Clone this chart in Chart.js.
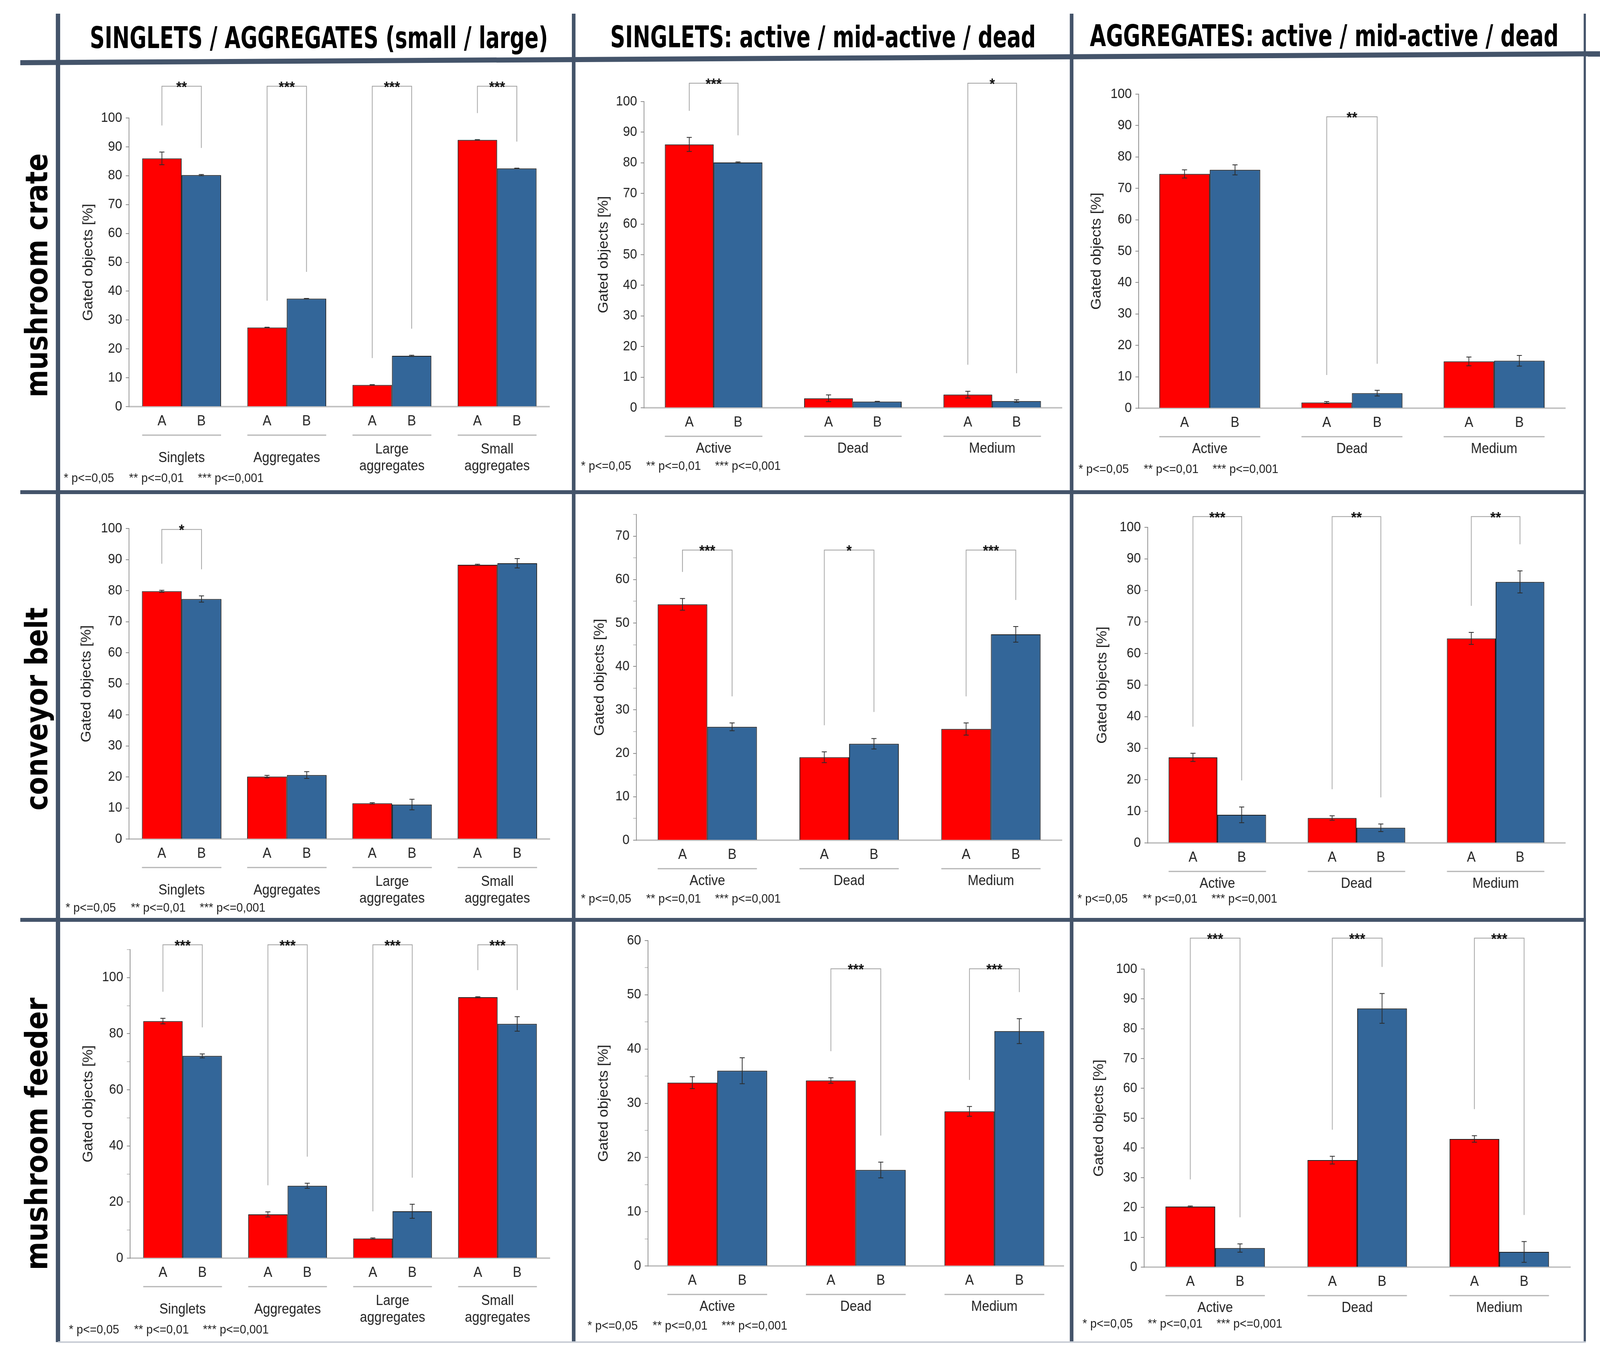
<!DOCTYPE html>
<html>
<head>
<meta charset="utf-8">
<title>Gated objects - singlets / aggregates</title>
<script src="https://cdn.jsdelivr.net/npm/chart.js@4.4.1/dist/chart.umd.min.js"></script>
<style>
  html, body { margin: 0; padding: 0; background: #fff; overflow: hidden; }
  #page { position: relative; width: 4415px; height: 3469px; overflow: hidden; background: #fff;
          transform-origin: 0 0;
          font-family: 'Liberation Sans', Arial, sans-serif; color: #1a1a1a; }
  .rule { position: absolute; background: #44546a; }
  .bigText { position: absolute; font-family: 'Liberation Sans Narrow', 'DejaVu Sans Condensed', 'Liberation Sans', sans-serif;
             font-weight: bold; color: #000; white-space: nowrap; line-height: 1.2; }
  .note { position: absolute; height: 36px; line-height: 36px; font-size: 32px; color: #222; white-space: nowrap; }
  .note span { position: absolute; top: 0; }
  .chartBox { position: absolute; }
</style>
</head>
<body>
<div id="page"></div>
<script>
// ---- data ---------------------------------------------------------------
const sizeGroups = [['Singlets'], ['Aggregates'], ['Large', 'aggregates'], ['Small', 'aggregates']];
const stateGroups = ['Active', 'Dead', 'Medium'];
const seriesNames = ['A', 'B'];
const columnTitles = ['SINGLETS / AGGREGATES (small / large)', 'SINGLETS: active / mid-active / dead', 'AGGREGATES: active / mid-active / dead'];
const rowTitles = ['mushroom crate', 'conveyor belt', 'mushroom feeder'];
const noteParts = ['* p<=0,05', '** p<=0,01', '*** p<=0,001'];

// mushroom crate
const crateSizeA = [86.0, 27.4, 7.5, 92.4];
const crateSizeB = [80.2, 37.4, 17.6, 82.5];
const crateSizeErrA = [2.2, 0.1, 0.1, 0.1];
const crateSizeErrB = [0.2, 0.1, 0.2, 0.1];
const crateSizeStars = ['**', '***', '***', '***'];

const crateSingA = [86.0, 3.1, 4.3];
const crateSingB = [80.1, 2.0, 2.2];
const crateSingErrA = [2.3, 1.1, 1.1];
const crateSingErrB = [0.2, 0.1, 0.4];
const crateSingStars = ['***', '', '*'];

const crateAggA = [74.6, 1.8, 14.9];
const crateAggB = [75.9, 4.8, 15.1];
const crateAggErrA = [1.3, 0.3, 1.4];
const crateAggErrB = [1.6, 0.9, 1.7];
const crateAggStars = ['', '**', ''];

// conveyor belt
const beltSizeA = [79.8, 20.1, 11.5, 88.3];
const beltSizeB = [77.3, 20.6, 11.1, 88.8];
const beltSizeErrA = [0.3, 0.4, 0.2, 0.2];
const beltSizeErrB = [1.0, 1.1, 1.7, 1.5];
const beltSizeStars = ['*', '', '', ''];

const beltSingA = [54.3, 19.1, 25.6];
const beltSingB = [26.1, 22.2, 47.4];
const beltSingErrA = [1.35, 1.25, 1.4];
const beltSingErrB = [0.9, 1.2, 1.8];
const beltSingStars = ['***', '*', '***'];

const beltAggA = [27.1, 7.9, 64.8];
const beltAggB = [8.9, 4.8, 82.7];
const beltAggErrA = [1.3, 0.7, 1.9];
const beltAggErrB = [2.5, 1.2, 3.5];
const beltAggStars = ['***', '**', '**'];

// mushroom feeder
const feederSizeA = [84.5, 15.6, 7.0, 93.0];
const feederSizeB = [72.1, 25.8, 16.7, 83.5];
const feederSizeErrA = [1.0, 0.9, 0.2, 0.2];
const feederSizeErrB = [0.7, 0.9, 2.5, 2.6];
const feederSizeStars = ['***', '***', '***', '***'];

const feederSingA = [33.8, 34.2, 28.5];
const feederSingB = [36.0, 17.7, 43.3];
const feederSingErrA = [1.1, 0.5, 0.9];
const feederSingErrB = [2.4, 1.45, 2.3];
const feederSingStars = ['', '***', '***'];

const feederAggA = [20.3, 35.9, 43.0];
const feederAggB = [6.4, 86.8, 5.1];
const feederAggErrA = [0.2, 1.3, 1.1];
const feederAggErrB = [1.4, 5.0, 3.5];
const feederAggStars = ['***', '***', '***'];

// ---- layout --------------------------------------------------------------
const RED = '#ff0000';
const BLUE = '#336699';
const EDGE = '#1e1e1e';
const LEG_GAP = 68;
const FONT = "'Liberation Sans', Arial, sans-serif";

const colEdges = [[160, 1583], [1583, 2957], [2957, 4373]];
const rowEdges = [[160, 1260], [1260, 2355], [2355, 3436]];

const panels = [
  { row: 0, col: 0, groups: sizeGroups, a: crateSizeA, b: crateSizeB, errA: crateSizeErrA, errB: crateSizeErrB, stars: crateSizeStars,
    area: [356, 302, 1535, 1041], yMax: 100, major: 10, minor: 5, bracketTop: 111, titleX: 245, note: [176, 1223], cat: 0.75 },
  { row: 0, col: 1, groups: stateGroups, a: crateSingA, b: crateSingB, errA: crateSingErrA, errB: crateSingErrB, stars: crateSingStars,
    area: [1777, 260, 2930, 1044], yMax: 100, major: 10, minor: 5, bracketTop: 106, titleX: 1667, note: [1603, 1192], cat: 0.70 },
  { row: 0, col: 2, groups: stateGroups, a: crateAggA, b: crateAggB, errA: crateAggErrA, errB: crateAggErrB, stars: crateAggStars,
    area: [3142, 241, 4319, 1045], yMax: 100, major: 10, minor: 5, bracketTop: 92.8, titleX: 3027, note: [2976, 1200], cat: 0.71 },
  { row: 1, col: 0, groups: sizeGroups, a: beltSizeA, b: beltSizeB, errA: beltSizeErrA, errB: beltSizeErrB, stars: beltSizeStars,
    area: [356, 1353, 1540, 2148], yMax: 100, major: 10, minor: 5, bracketTop: 99.7, titleX: 240, note: [181, 2323], cat: 0.755 },
  { row: 1, col: 1, groups: stateGroups, a: beltSingA, b: beltSingB, errA: beltSingErrA, errB: beltSingErrB, stars: beltSingStars,
    area: [1756, 1317, 2930, 2151], yMax: 75, major: 10, minor: 5, bracketTop: 66.8, titleX: 1656, note: [1603, 2300], cat: 0.70 },
  { row: 1, col: 2, groups: stateGroups, a: beltAggA, b: beltAggB, errA: beltAggErrA, errB: beltAggErrB, stars: beltAggStars,
    area: [3167, 1350, 4319, 2158], yMax: 100, major: 10, minor: 5, bracketTop: 103.4, titleX: 3043, note: [2973, 2300], cat: 0.70 },
  { row: 2, col: 0, groups: sizeGroups, a: feederSizeA, b: feederSizeB, errA: feederSizeErrA, errB: feederSizeErrB, stars: feederSizeStars,
    area: [359, 2431, 1544, 3221], yMax: 110, major: 20, minor: 10, bracketTop: 111.7, titleX: 245, note: [190, 3403], cat: 0.75 },
  { row: 2, col: 1, groups: stateGroups, a: feederSingA, b: feederSingB, errA: feederSingErrA, errB: feederSingErrB, stars: feederSingStars,
    area: [1788, 2408, 2935, 3241], yMax: 60, major: 10, minor: 5, bracketTop: 54.8, titleX: 1667, note: [1621, 3393], cat: 0.72 },
  { row: 2, col: 2, groups: stateGroups, a: feederAggA, b: feederAggB, errA: feederAggErrA, errB: feederAggErrB, stars: feederAggStars,
    area: [3157, 2481, 4333, 3244], yMax: 100, major: 10, minor: 5, bracketTop: 110.4, titleX: 3034, note: [2987, 3388], cat: 0.70 }
];

Chart.defaults.font.family = FONT;
Chart.defaults.color = '#222';

const page = document.getElementById('page');

// the window can be smaller than the figure: map the 4415x3469 page onto it
function fitPage() {
  const sx = Math.min(window.innerWidth / 4415, 1);
  const sy = Math.min(window.innerHeight / 3469, 1);
  page.style.transform = `scale(${sx}, ${sy})`;
}
fitPage();

function addDiv(cls, css, text) {
  const el = document.createElement('div');
  el.className = cls;
  el.style.cssText = css;
  if (text !== undefined) el.textContent = text;
  page.appendChild(el);
  return el;
}

// bold heading squeezed to the length it has in the figure
function addFitted(text, cx, cy, size, length, rotate) {
  const el = addDiv('bigText', `left:${cx}px;top:${cy}px;font-size:${size}px;`, text);
  const k = length / el.offsetWidth;
  el.style.transform = `translate(-50%, -50%)${rotate ? ' rotate(-90deg)' : ''} scaleX(${k})`;
  return el;
}

// frame of the figure
addDiv('rule', 'left:56px;top:154px;width:4359px;height:13px;transform:rotate(-0.3deg);transform-origin:0 50%;');
addDiv('rule', 'left:56px;top:1255px;width:4320px;height:10px;');
addDiv('rule', 'left:56px;top:2350px;width:4320px;height:10px;');
addDiv('rule', 'left:154px;top:35px;width:12px;height:3401px;');
addDiv('rule', 'left:1578px;top:35px;width:10px;height:3401px;');
addDiv('rule', 'left:2952px;top:35px;width:10px;height:3401px;');
addDiv('rule', 'left:4370px;top:35px;width:6px;height:3401px;');
addDiv('rule', 'left:160px;top:3434px;width:4216px;height:4px;background:#c9ced6;');

const titleSpots = [[880, 97, 1264], [2271, 95, 1174], [3654, 92, 1293]];
columnTitles.forEach((t, i) => addFitted(t, titleSpots[i][0], titleSpots[i][1], 76, titleSpots[i][2], false));

const rowSpots = [[102, 705, 625], [102, 1815, 520], [102, 2903, 698]];
rowTitles.forEach((t, i) => addFitted(t, rowSpots[i][0], rowSpots[i][1], 84, rowSpots[i][2], true));

// error bars, A/B labels, group underlines and significance brackets
function marksPlugin(p) {
  return {
    id: 'marks',
    afterDatasetsDraw(chart) {
      const { ctx, chartArea } = chart;
      const yScale = chart.scales.y;
      const barsA = chart.getDatasetMeta(0).data;
      const barsB = chart.getDatasetMeta(1).data;
      const series = [[barsA, p.a, p.errA, seriesNames[0]], [barsB, p.b, p.errB, seriesNames[1]]];
      ctx.save();

      ctx.strokeStyle = '#2b2b2b';
      ctx.lineWidth = 2;
      series.forEach(([bars, vals, errs]) => {
        bars.forEach((bar, i) => {
          const hi = yScale.getPixelForValue(vals[i] + errs[i]);
          const lo = yScale.getPixelForValue(vals[i] - errs[i]);
          ctx.beginPath();
          ctx.moveTo(bar.x, hi); ctx.lineTo(bar.x, lo);
          ctx.moveTo(bar.x - 7, hi); ctx.lineTo(bar.x + 7, hi);
          ctx.moveTo(bar.x - 7, lo); ctx.lineTo(bar.x + 7, lo);
          ctx.stroke();
        });
      });

      ctx.fillStyle = '#222';
      ctx.font = `36px ${FONT}`;
      ctx.textAlign = 'center';
      ctx.textBaseline = 'middle';
      series.forEach(([bars, , , name]) => {
        bars.forEach(bar => ctx.fillText(name, bar.x, chartArea.bottom + 38));
      });

      ctx.strokeStyle = '#b4b4b4';
      ctx.lineWidth = 3;
      barsA.forEach((bar, i) => {
        const x0 = bar.x - bar.width / 2;
        const x1 = barsB[i].x + barsB[i].width / 2;
        ctx.beginPath();
        ctx.moveTo(x0, chartArea.bottom + 73);
        ctx.lineTo(x1, chartArea.bottom + 73);
        ctx.stroke();
      });

      const top = yScale.getPixelForValue(p.bracketTop);
      ctx.strokeStyle = '#a0a0a0';
      ctx.lineWidth = 2;
      ctx.fillStyle = '#111';
      ctx.font = `bold 38px ${FONT}`;
      ctx.textBaseline = 'alphabetic';
      p.stars.forEach((mark, i) => {
        if (!mark) return;
        const xa = barsA[i].x;
        const xb = barsB[i].x;
        const ya = Math.max(top, yScale.getPixelForValue(p.a[i] + p.errA[i]) - LEG_GAP);
        const yb = Math.max(top, yScale.getPixelForValue(p.b[i] + p.errB[i]) - LEG_GAP);
        ctx.beginPath();
        ctx.moveTo(xa, ya);
        ctx.lineTo(xa, top);
        ctx.lineTo(xb, top);
        ctx.lineTo(xb, yb);
        ctx.stroke();
        ctx.fillText(mark, (xa + xb) / 2, top + 15);
      });
      ctx.restore();
    }
  };
}

function makePanel(p) {
  const [cl, cr] = colEdges[p.col];
  const [rt, rb] = rowEdges[p.row];
  const box = { left: cl + 8, top: rt + 8, right: cr - 6, bottom: rb - 6 };
  const [aL, aT, aR, aB] = p.area;
  const twoLine = p.groups.some(g => Array.isArray(g) && g.length > 1);
  const isMajor = v => Math.round(v) % p.major === 0;

  const wrap = addDiv('chartBox', `left:${box.left}px;top:${box.top}px;width:${box.right - box.left}px;height:${box.bottom - box.top}px;`);
  const canvas = document.createElement('canvas');
  wrap.appendChild(canvas);

  new Chart(canvas, {
    type: 'bar',
    data: {
      labels: p.groups,
      datasets: [
        { label: seriesNames[0], data: p.a, backgroundColor: RED, borderColor: EDGE, borderWidth: 2,
          barPercentage: 1, categoryPercentage: p.cat },
        { label: seriesNames[1], data: p.b, backgroundColor: BLUE, borderColor: EDGE, borderWidth: 2,
          barPercentage: 1, categoryPercentage: p.cat }
      ]
    },
    options: {
      responsive: true,
      maintainAspectRatio: false,
      animation: false,
      layout: { padding: { left: 0, top: aT - box.top, right: box.right - aR, bottom: 0 } },
      plugins: { legend: { display: false }, tooltip: { enabled: false } },
      scales: {
        x: {
          grid: { display: false, drawTicks: false },
          border: { display: true, color: '#c4c4c4', width: 4 },
          ticks: { font: { size: 36, lineHeight: 1.2 }, color: '#222', crossAlign: 'center',
                   padding: twoLine ? 110 : 105, maxRotation: 0, autoSkip: false },
          afterFit(s) { s.height = box.bottom - aB; }
        },
        y: {
          min: 0,
          max: p.yMax,
          grid: { drawOnChartArea: false, drawTicks: true, tickLength: 9, lineWidth: 2,
                  color: c => (c.tick && isMajor(c.tick.value) ? '#8c8c8c' : '#c0c0c0') },
          border: { display: true, color: '#8c8c8c', width: 2 },
          ticks: { stepSize: p.minor, font: { size: 35 }, color: '#222', padding: 10,
                   callback: v => (isMajor(v) ? Math.round(v) : '') },
          title: { display: true, text: 'Gated objects [%]', color: '#222', font: { size: 38, lineHeight: 1.2 },
                   padding: { top: p.titleX - box.left - 23, bottom: 0 } },
          afterFit(s) { s.width = aL - box.left; }
        }
      }
    },
    plugins: [marksPlugin(p)]
  });

  const note = addDiv('note', `left:${p.note[0]}px;top:${p.note[1] - 18}px;width:700px;`);
  [0, 180, 370].forEach((off, i) => {
    const s = document.createElement('span');
    s.style.left = off + 'px';
    s.textContent = noteParts[i];
    note.appendChild(s);
  });
}

panels.forEach(makePanel);
</script>
</body>
</html>
